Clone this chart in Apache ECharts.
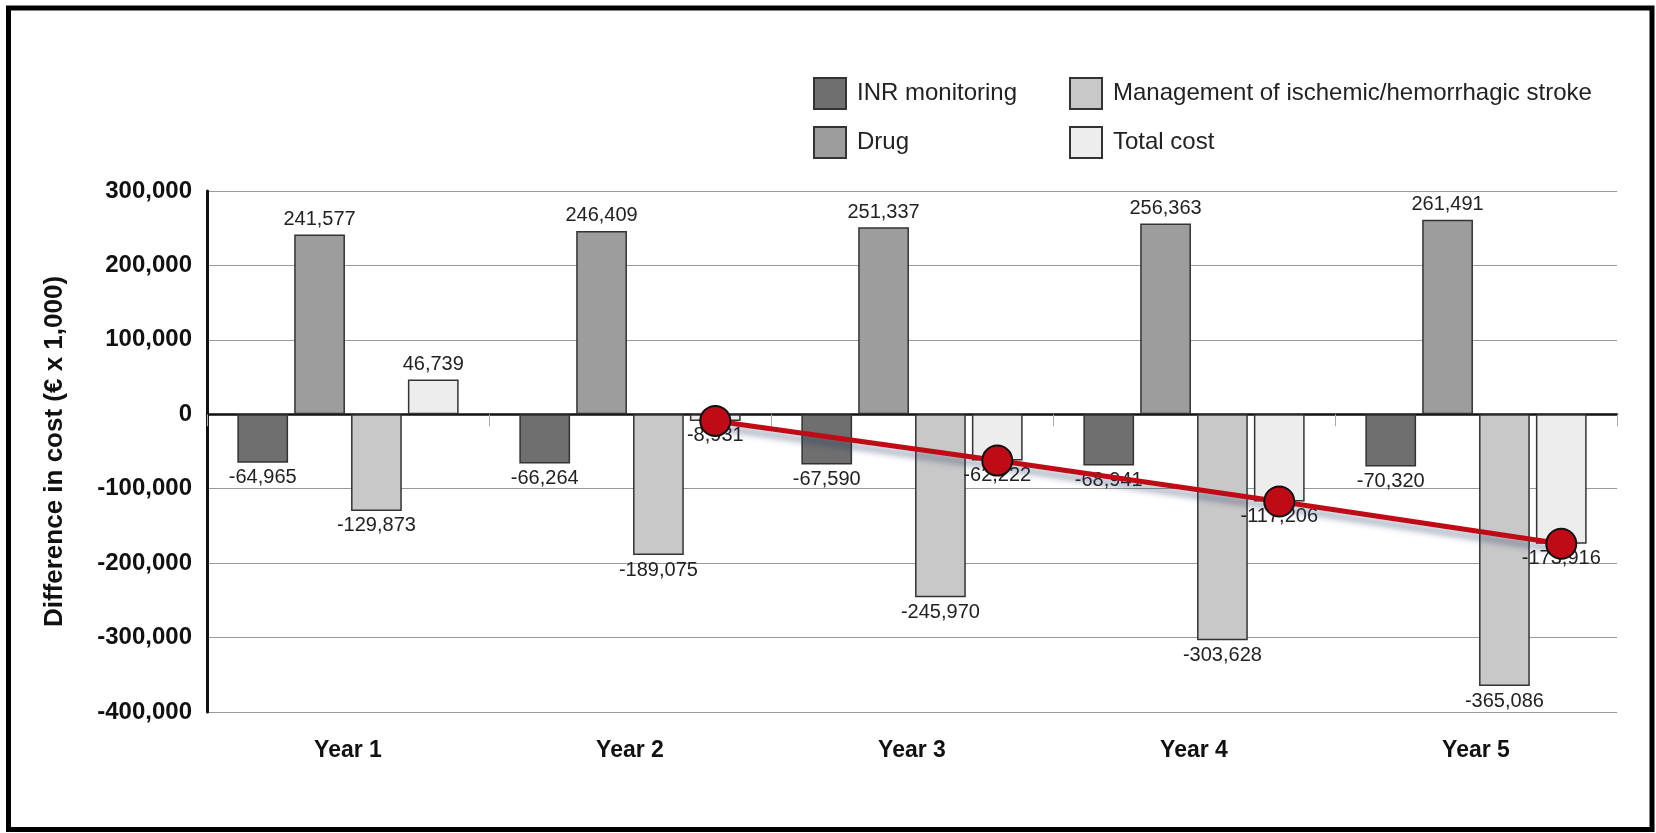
<!DOCTYPE html>
<html>
<head>
<meta charset="utf-8">
<script src="https://cdn.jsdelivr.net/npm/echarts@6/dist/echarts.min.js"></script>
<style>
  html, body { margin: 0; padding: 0; background: #fff; }
  #chart { width: 1656px; height: 833px; }
</style>
</head>
<body>
<div id="chart"></div>
<script>
const years = ['Year 1', 'Year 2', 'Year 3', 'Year 4', 'Year 5'];
const inrMonitoring = [-64965, -66264, -67590, -68941, -70320];
const drug = [241577, 246409, 251337, 256363, 261491];
const strokeMgmt = [-129873, -189075, -245970, -303628, -365086];
const totalCost = [46739, -8931, -62222, -117206, -173916];
// the red trend line starts at year 2
const trendYears = [1, 2, 3, 4];
const yTicks = { min: -400000, max: 300000, interval: 100000 };

const FONT = "'Liberation Sans', Arial, sans-serif";
const BAR_W = 0.18;   // share of category width
const BAR_GAP = 0.12; // share of bar width

const fmt = v => v.toLocaleString('en-US');

function barData(arr) {
  return arr.map(v => ({
    value: v,
    label: { position: v < 0 ? 'bottom' : 'top' }
  }));
}

function barSeries(name, arr, color) {
  return {
    name: name,
    type: 'bar',
    xAxisIndex: 0,
    barWidth: (BAR_W * 100) + '%',
    barGap: (BAR_GAP * 100) + '%',
    data: barData(arr),
    itemStyle: { color: color, borderColor: '#333', borderWidth: 1.5 },
    label: {
      show: true,
      distance: 5,
      fontFamily: FONT,
      fontSize: 20,
      color: '#222',
      formatter: p => fmt(p.value)
    }
  };
}

// centre of the 4th bar relative to the category centre, in category units
const totalOffset = 1.5 * BAR_W * (1 + BAR_GAP);

const legendText = { fontFamily: FONT, fontSize: 24, color: '#222', padding: [0, 0, 0, 6] };

const chart = echarts.init(document.getElementById('chart'));
chart.setOption({
  animation: false,
  backgroundColor: '#fff',
  textStyle: { fontFamily: FONT },
  graphic: [{
    type: 'rect',
    shape: { x: 8.5, y: 8, width: 1643.5, height: 821.5 },
    style: { fill: 'none', stroke: '#000', lineWidth: 5 },
    silent: true
  }],
  legend: [
    {
      data: ['INR monitoring', 'Drug'],
      orient: 'vertical',
      left: 813, top: 77, padding: 0,
      itemWidth: 32, itemHeight: 31, itemGap: 16,
      icon: 'rect',
      textStyle: legendText
    },
    {
      data: ['Management of ischemic/hemorrhagic stroke', 'Total cost'],
      orient: 'vertical',
      left: 1069, top: 77, padding: 0,
      itemWidth: 32, itemHeight: 31, itemGap: 16,
      icon: 'rect',
      textStyle: legendText
    }
  ],
  grid: { left: 207, right: 39, top: 191, bottom: 121 },
  xAxis: [
    {
      type: 'category',
      data: years,
      position: 'bottom',
      axisLine: { show: false, onZero: false },
      axisTick: { show: false },
      axisLabel: { fontFamily: FONT, fontSize: 23, fontWeight: 'bold', color: '#111', margin: 27 }
    },
    {
      type: 'category',
      data: years,
      position: 'bottom',
      axisLine: { show: true, onZero: true, lineStyle: { color: '#111', width: 2.5 } },
      axisTick: { show: true, length: 12, lineStyle: { color: '#aaa', width: 1 } },
      axisLabel: { show: false }
    },
    {
      type: 'value',
      min: -0.5,
      max: years.length - 0.5,
      show: false
    }
  ],
  yAxis: {
    type: 'value',
    min: yTicks.min,
    max: yTicks.max,
    interval: yTicks.interval,
    name: 'Difference in cost (€ x 1,000)',
    nameLocation: 'middle',
    nameGap: 139,
    nameTextStyle: { fontFamily: FONT, fontSize: 26, fontWeight: 'bold', color: '#111' },
    axisLine: { show: true, onZero: false, lineStyle: { color: '#111', width: 3 } },
    axisTick: { show: false },
    axisLabel: { fontFamily: FONT, fontSize: 24, fontWeight: 'bold', color: '#111', margin: 15, formatter: v => fmt(v) },
    splitLine: { lineStyle: { color: '#999', width: 1.2 } }
  },
  series: [
    barSeries('INR monitoring', inrMonitoring, '#6f6f6f'),
    barSeries('Drug', drug, '#9d9d9d'),
    barSeries('Management of ischemic/hemorrhagic stroke', strokeMgmt, '#c8c8c8'),
    barSeries('Total cost', totalCost, '#ededed'),
    {
      name: 'Total cost trend',
      type: 'line',
      xAxisIndex: 2,
      z: 5,
      data: trendYears.map(i => [i + totalOffset, totalCost[i]]),
      symbol: 'circle',
      symbolSize: 30,
      lineStyle: {
        color: '#c00a16', width: 5,
        shadowColor: 'rgba(30,50,90,0.45)', shadowBlur: 6, shadowOffsetY: 6
      },
      itemStyle: { color: '#c00a16', borderColor: '#111', borderWidth: 2 },
      label: { show: false }
    }
  ]
});
</script>
</body>
</html>
